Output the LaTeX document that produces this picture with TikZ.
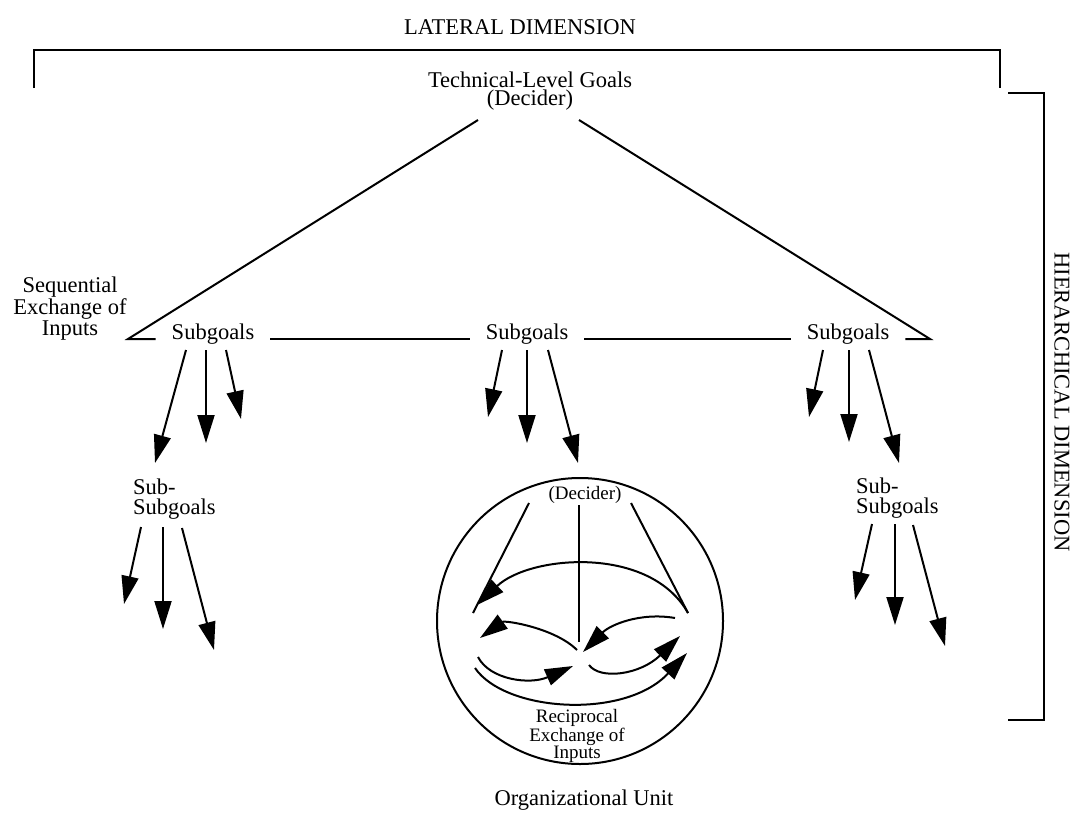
\documentclass[tikz,border=0pt]{standalone}
\usepackage{fontspec}
\setmainfont{Liberation Serif}
\usetikzlibrary{arrows.meta}
\begin{document}
\begin{tikzpicture}[x=1pt,y=-1pt,
  line width=2pt,
  arr/.style={-{Triangle[length=28pt,width=17pt]}},
  lbl/.style={font=\fontsize{22.5}{21}\selectfont, inner sep=0pt, align=center},
  small/.style={font=\fontsize{19}{14}\selectfont, inner sep=0pt, align=center},
  goal/.style={lbl, inner xsep=15pt, anchor=base}]
\useasboundingbox (0,0) rectangle (1081,814);

% dimension labels and brackets
\node[lbl] (lat) at (520,27) {LATERAL DIMENSION};
\coordinate (lb1) at (34,88);  \coordinate (lb2) at (34,50);
\coordinate (lb3) at (1000,50); \coordinate (lb4) at (1000,88);
\draw (lb1) -- (lb2) -- (lb3) -- (lb4);
\node[lbl, rotate=-90] (hier) at (1062,402) {HIERARCHICAL DIMENSION};
\coordinate (hb1) at (1008,93);  \coordinate (hb2) at (1044,93);
\coordinate (hb3) at (1044,720); \coordinate (hb4) at (1008,720);
\draw (hb1) -- (hb2) -- (hb3) -- (hb4);

% top goal and the triangle down to the subgoals
\node[lbl, font=\fontsize{22.5}{18.5}\selectfont] (top) at (530,91) {Technical-Level Goals\\(Decider)};
\coordinate (apexL) at (478,120);
\coordinate (apexR) at (579,120);
\coordinate (baseL) at (128,339);
\coordinate (baseR) at (930,339);
\node[goal] (sgA) at (213,339) {Subgoals};
\node[goal] (sgB) at (527,339) {Subgoals};
\node[goal] (sgC) at (848,339) {Subgoals};
\draw (apexL) -- (baseL) -- (sgA.base west);
\draw (sgA.base east) -- (sgB.base west);
\draw (sgB.base east) -- (sgC.base west);
\draw (sgC.base east) -- (baseR) -- (apexR);
\node[lbl, font=\fontsize{22.5}{21.5}\selectfont] (seq) at (70,309) {Sequential\\Exchange of\\Inputs};

% arrows below the subgoals
\foreach \name/\sx/\sy/\tx/\ty in {
  a1/186/350/155/463, a2/206/350/206/443, a3/226/350/241/419,
  b1/502/350/488/417, b2/527/350/527/443, b3/548/350/578/463,
  c1/823/350/809/417, c2/849/350/849/442, c3/869/350/899/463,
  d1/141/527/124/604, d2/163/527/163/629, d3/182/528/214/650,
  e1/872/524/855/600, e2/895/524/895/625, e3/913/525/945/646}{
  \coordinate (\name s) at (\sx,\sy);
  \coordinate (\name t) at (\tx,\ty);
  \draw[arr] (\name s) -- (\name t);
}

% sub-subgoals
\node[lbl, font=\fontsize{22.5}{20}\selectfont, align=left, anchor=west] (ssL) at (132,499) {Sub-\\Subgoals};
\node[lbl, font=\fontsize{22.5}{20}\selectfont, align=left, anchor=west] (ssR) at (855,498) {Sub-\\Subgoals};

% organizational unit
\node[draw, circle, minimum size=286pt, inner sep=0pt] (unit) at (580,621) {};
\node[small] (udec) at (585,495) {(Decider)};
\node[small] (recip) at (577,736) {Reciprocal\\Exchange of\\Inputs};
\node[lbl] (org) at (584,800) {Organizational Unit};

\coordinate (uL0) at (529,503); \coordinate (uL1) at (473,613);
\coordinate (uC0) at (579,505); \coordinate (uC1) at (579,642);
\coordinate (uR0) at (631,503); \coordinate (uR1) at (688,613);
\draw (uL0) -- (uL1);
\draw (uC0) -- (uC1);
\draw (uR0) -- (uR1);
\coordinate (bigT) at (477,605);
\draw[arr] (uR1) .. controls (650,545) and (530,555) .. (bigT);

\coordinate (p1s) at (577,650); \coordinate (p1t) at (480,638);
\draw[arr] (p1s) .. controls (555,628) and (505,620) .. (p1t);
\coordinate (p2s) at (675,618); \coordinate (p2t) at (583,652);
\draw[arr] (p2s) .. controls (640,612) and (610,625) .. (p2t);
\coordinate (p3s) at (478,657); \coordinate (p3t) at (573,666);
\draw[arr] (p3s) .. controls (490,680) and (530,685) .. (p3t);
\coordinate (p4s) at (589,665); \coordinate (p4t) at (680,636);
\draw[arr] (p4s) .. controls (600,680) and (640,675) .. (p4t);
\coordinate (p5s) at (475,668); \coordinate (p5t) at (687,653);
\draw[arr] (p5s) .. controls (505,712) and (625,720) .. (p5t);
\end{tikzpicture}
\end{document}
